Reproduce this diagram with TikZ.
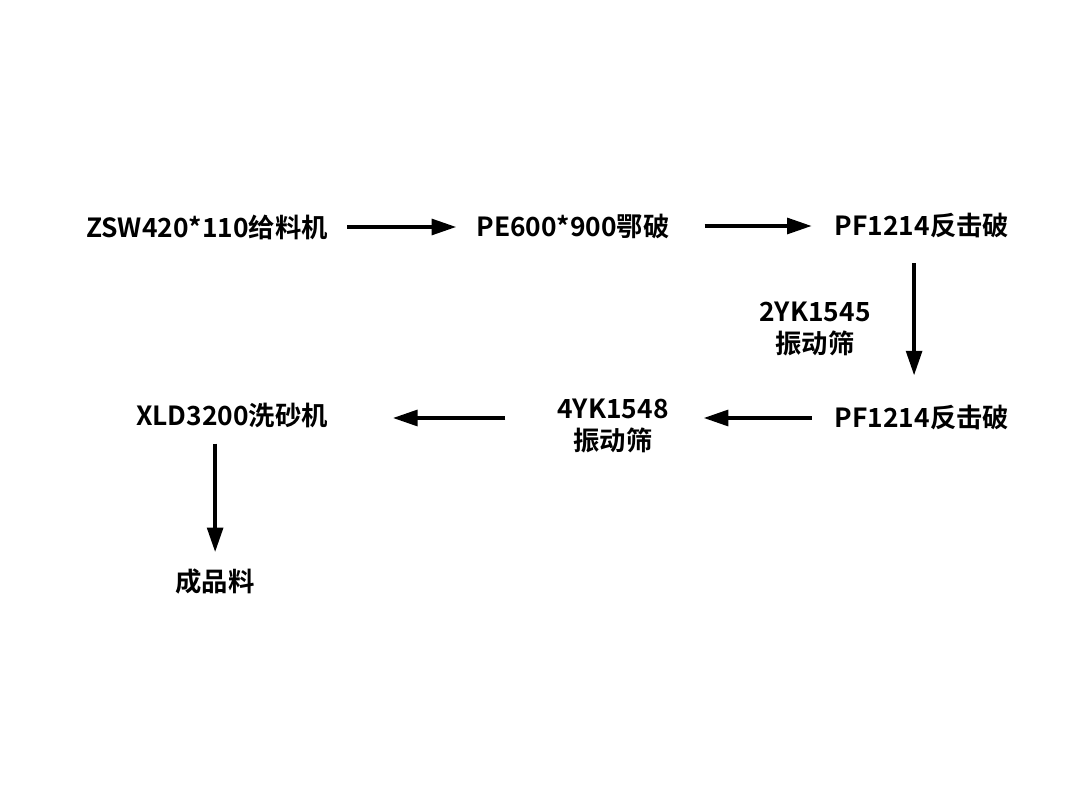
\documentclass[tikz,border=0pt]{standalone}
\usepackage{fontspec}
\setmainfont{Noto Sans CJK SC}[BoldFont={* Bold}]
\usetikzlibrary{arrows.meta}

\tikzset{
  label/.style={font=\bfseries\fontsize{15pt}{18pt}\selectfont, align=center, inner sep=0pt},
  flow/.style={-{Triangle[length=14pt,width=9pt]}, line width=2pt}
}

\begin{document}
\begin{tikzpicture}[x=0.02cm, y=-0.02cm]
  \useasboundingbox (0,0) rectangle (1080,810);

  % 第一行
  \node[label] (feeder) at (207,227) {ZSW420*110给料机};
  \node[label] (jaw) at (573,226) {PE600*900鄂破};
  \node[label] (pfa) at (922,226) {PF1214反击破};

  % 第二行
  \node[label] (pfb) at (922,418) {PF1214反击破};
  \node[label] (sievea) at (815,329) {2YK1545\\振动筛};
  \node[label] (sieveb) at (613,426) {4YK1548\\振动筛};
  \node[label] (washer) at (232,415) {XLD3200洗砂机};

  % 成品
  \node[label] (product) at (215,582) {成品料};

  % 连线
  \draw[flow, shorten <=10.8pt, shorten >=11.3pt] (feeder.east) -- (jaw.west |- feeder.east);
  \draw[flow, shorten <=19.8pt, shorten >=13pt] (jaw.east) -- (pfa.west |- jaw.east);
  \draw[flow, shorten <=14pt, shorten >=17pt] ([xshift=-4.5pt]pfa.south) -- ([xshift=-4.5pt]pfb.north);
  \draw[flow, shorten <=13pt, shorten >=19.8pt] (pfb.west) -- (pfb.west -| sieveb.east);
  \draw[flow, shorten <=29.5pt, shorten >=36.8pt] (sieveb.west |- pfb.west) -- (washer.east |- pfb.west);
  \draw[flow, shorten <=9pt, shorten >=9.6pt] ([xshift=-9.6pt]washer.south) -- ([xshift=-9.6pt]washer.south |- product.north);
\end{tikzpicture}
\end{document}
